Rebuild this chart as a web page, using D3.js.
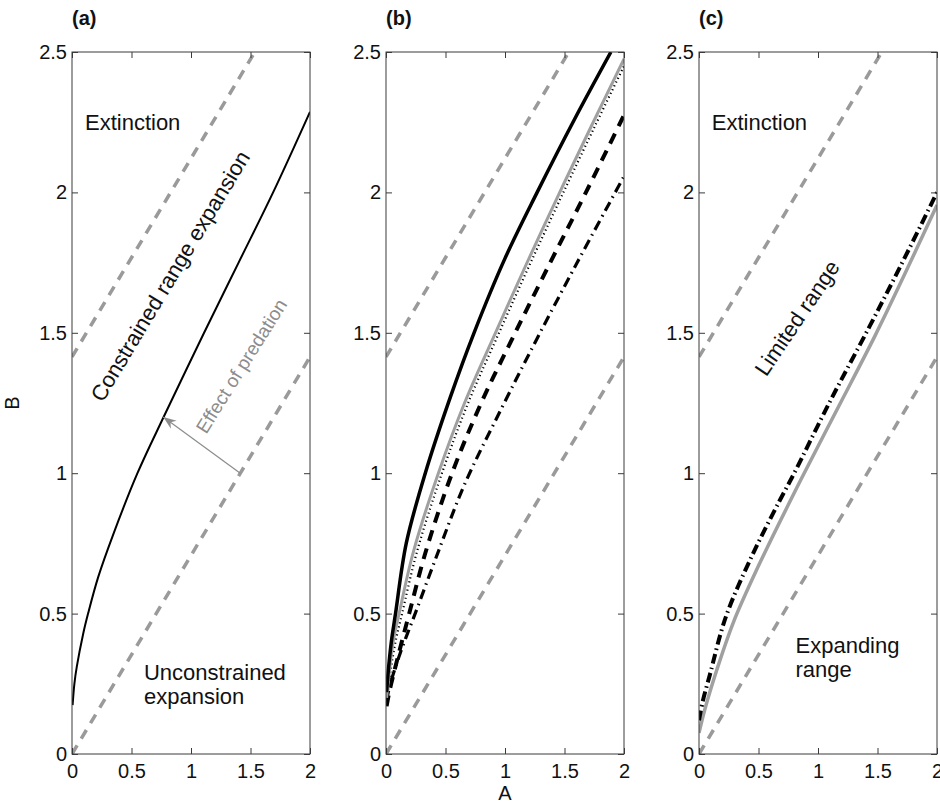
<!DOCTYPE html>
<html>
<head>
<meta charset="utf-8">
<script src="https://cdn.jsdelivr.net/npm/d3@7"></script>
<style>
  body { margin: 0; background: #fff; }
  svg { display: block; font-family: "Liberation Sans", Arial, Helvetica, sans-serif; }
</style>
</head>
<body>
<svg id="fig" width="940" height="804"></svg>
<script>
// -- Data ----------------------------------------------------------
var A_TICKS = [0, 0.5, 1, 1.5, 2];
var B_TICKS = [0, 0.5, 1, 1.5, 2, 2.5];
var PANEL_LABELS = ["(a)", "(b)", "(c)"];

// grey dashed bounds: B = A/sqrt(2) and B = A/sqrt(2) + sqrt(2)
var lowerBoundA = [0, 2];
var lowerBoundB = [0, 1.414];
var upperBoundA = [0, 1.536];
var upperBoundB = [1.414, 2.5];

// panel (a) boundary
var aCurveA = [0.005, 0.02, 0.04, 0.095, 0.135, 0.22, 0.35, 0.55, 0.77, 1.11, 1.4, 1.69, 2.0];
var aCurveB = [0.174, 0.25, 0.31, 0.43, 0.5, 0.63, 0.786, 1.0, 1.2, 1.5, 1.75, 2.0, 2.287];

// panel (a) predation arrow (tail, head)
var arrowA = [1.414, 0.767];
var arrowB = [1.0, 1.2];

// panel (b) boundaries
var bSolidA = [0.005, 0.02, 0.045, 0.08, 0.17, 0.33, 0.54, 0.74, 1.0, 1.27, 1.58, 1.89];
var bSolidB = [0.22, 0.3, 0.4, 0.5, 0.75, 1.0, 1.27, 1.5, 1.765, 2.0, 2.257, 2.5];
var bGreyA  = [0.005, 0.03, 0.06, 0.11, 0.23, 0.44, 0.66, 0.92, 1.18, 1.454, 1.73, 2.0];
var bGreyB  = [0.2, 0.3, 0.4, 0.5, 0.72, 1.0, 1.25, 1.5, 1.745, 1.995, 2.24, 2.475];
var bDotA   = [0.01, 0.04, 0.08, 0.135, 0.26, 0.47, 0.69, 0.95, 1.21, 1.485, 1.76, 2.0];
var bDotB   = [0.2, 0.3, 0.4, 0.5, 0.72, 1.0, 1.25, 1.5, 1.745, 1.995, 2.24, 2.45];
var bDashA  = [0.005, 0.03, 0.07, 0.13, 0.195, 0.33, 0.555, 0.8, 1.074, 1.38, 1.68, 2.0];
var bDashB  = [0.17, 0.225, 0.295, 0.395, 0.5, 0.715, 1.0, 1.25, 1.49, 1.75, 2.0, 2.275];
var bDashDotA = [0.005, 0.03, 0.08, 0.15, 0.245, 0.43, 0.66, 0.97, 1.27, 1.6, 1.92, 2.0];
var bDashDotB = [0.19, 0.24, 0.31, 0.395, 0.5, 0.71, 0.96, 1.23, 1.48, 1.745, 1.995, 2.057];

// panel (c) boundaries
var cDashDotA = [0, 0.03, 0.09, 0.227, 0.45, 0.675, 0.8, 1.1, 1.43, 1.72, 2.0];
var cDashDotB = [0.12, 0.185, 0.28, 0.49, 0.71, 0.9, 1.0, 1.255, 1.52, 1.76, 2.0];
var cGreyA = [0, 0.05, 0.15, 0.29, 0.5, 0.765, 0.86, 1.17, 1.48, 1.73, 2.0];
var cGreyB = [0.075, 0.16, 0.3, 0.47, 0.67, 0.9, 0.98, 1.235, 1.49, 1.71, 1.955];

// -- Layout --------------------------------------------------------
var PANEL_X = [72, 386, 699];
var PANEL_W = 238;
var TOP = 52, BOTTOM = 754;
var GREY = "#9a9a9a";
var AXIS = "#3a3a3a";

var svg = d3.select("#fig");

function zip(xs, ys) { return xs.map(function (v, i) { return [v, ys[i]]; }); }

function makePanel(i) {
  var x = d3.scaleLinear().domain([0, 2]).range([PANEL_X[i], PANEL_X[i] + PANEL_W]);
  var y = d3.scaleLinear().domain([0, 2.5]).range([BOTTOM, TOP]);
  var g = svg.append("g");

  var clipId = "clip" + i;
  svg.append("clipPath").attr("id", clipId).append("rect")
    .attr("x", x(0)).attr("y", y(2.5))
    .attr("width", x(2) - x(0)).attr("height", y(0) - y(2.5));

  var plot = g.append("g").attr("clip-path", "url(#" + clipId + ")");
  var line = d3.line().x(function (d) { return x(d[0]); }).y(function (d) { return y(d[1]); });
  var smooth = d3.line().curve(d3.curveCatmullRom.alpha(0.5))
    .x(function (d) { return x(d[0]); }).y(function (d) { return y(d[1]); });

  // bounds
  [[lowerBoundA, lowerBoundB], [upperBoundA, upperBoundB]].forEach(function (b) {
    plot.append("path").attr("d", line(zip(b[0], b[1])))
      .attr("fill", "none").attr("stroke", GREY)
      .attr("stroke-width", 3.5).attr("stroke-dasharray", "10,8");
  });

  // axes
  function fmt(d) { return String(d); }
  function style(sel) {
    sel.select(".domain").remove();
    sel.selectAll(".tick line").attr("stroke", AXIS).attr("stroke-width", 1);
    sel.selectAll(".tick text").attr("fill", "#111")
      .attr("font-size", 20).attr("font-family", "'Liberation Sans', Arial, sans-serif");
  }
  g.append("g").attr("transform", "translate(0," + y(0) + ")")
    .call(d3.axisBottom(x).tickValues(A_TICKS).tickSizeInner(-6).tickSizeOuter(0).tickPadding(10).tickFormat(fmt))
    .call(style);
  g.append("g").attr("transform", "translate(0," + y(2.5) + ")")
    .call(d3.axisTop(x).tickValues(A_TICKS).tickSizeInner(-6).tickSizeOuter(0).tickFormat(""))
    .call(style);
  g.append("g").attr("transform", "translate(" + x(0) + ",0)")
    .call(d3.axisLeft(y).tickValues(B_TICKS).tickSizeInner(-6).tickSizeOuter(0).tickPadding(5).tickFormat(fmt))
    .call(style);
  g.append("g").attr("transform", "translate(" + x(2) + ",0)")
    .call(d3.axisRight(y).tickValues(B_TICKS).tickSizeInner(-6).tickSizeOuter(0).tickFormat(""))
    .call(style);

  g.append("rect")
    .attr("x", x(0)).attr("y", y(2.5))
    .attr("width", x(2) - x(0)).attr("height", y(0) - y(2.5))
    .attr("fill", "none").attr("stroke", AXIS).attr("stroke-width", 1);

  g.append("text").attr("x", x(0)).attr("y", 25)
    .attr("font-size", 20).attr("font-weight", "bold").attr("fill", "#111")
    .text(PANEL_LABELS[i]);

  return { g: g, plot: plot, x: x, y: y, smooth: smooth, line: line };
}

function addCurve(p, xs, ys, stroke, width, dash) {
  var path = p.plot.append("path").attr("d", p.smooth(zip(xs, ys)))
    .attr("fill", "none").attr("stroke", stroke).attr("stroke-width", width)
    .attr("stroke-linejoin", "round");
  if (dash) path.attr("stroke-dasharray", dash);
  return path;
}

function addLabel(p, a, b, lines, opts) {
  opts = opts || {};
  var t = p.g.append("text")
    .attr("font-size", opts.size || 22)
    .attr("fill", opts.color || "#111");
  if (opts.rotate) {
    t.attr("transform", "translate(" + p.x(a) + "," + p.y(b) + ") rotate(" + opts.rotate + ")")
      .attr("text-anchor", "middle").attr("dy", "0.35em").text(lines[0]);
  } else {
    lines.forEach(function (s, k) {
      t.append("tspan").attr("x", p.x(a)).attr("y", p.y(b) + k * 24).text(s);
    });
  }
}

// -- Panel (a) -----------------------------------------------------
var pa = makePanel(0);
addCurve(pa, aCurveA, aCurveB, "#000", 2);
addLabel(pa, 0.109, 2.222, ["Extinction"]);
addLabel(pa, 0.605, 0.2635, ["Unconstrained", "expansion"]);
addLabel(pa, 0.824, 1.702, ["Constrained range expansion"], { rotate: -59 });
addLabel(pa, 1.423, 1.382, ["Effect of predation"], { rotate: -58, size: 19, color: "#8c8c8c" });

var tail = [pa.x(arrowA[0]), pa.y(arrowB[0])];
var head = [pa.x(arrowA[1]), pa.y(arrowB[1])];
var ang = Math.atan2(head[1] - tail[1], head[0] - tail[0]) * 180 / Math.PI;
pa.g.append("line")
  .attr("x1", tail[0]).attr("y1", tail[1]).attr("x2", head[0]).attr("y2", head[1])
  .attr("stroke", "#8c8c8c").attr("stroke-width", 1.2);
pa.g.append("path")
  .attr("d", "M0,0 L-13,-5 L-9,0 L-13,5 Z")
  .attr("transform", "translate(" + head[0] + "," + head[1] + ") rotate(" + ang + ")")
  .attr("fill", "#8c8c8c");

// B label
svg.append("text").attr("transform", "translate(19,403) rotate(-90)")
  .attr("text-anchor", "middle").attr("font-size", 20).attr("fill", "#111").text("B");

// -- Panel (b) -----------------------------------------------------
var pb = makePanel(1);
addCurve(pb, bDashDotA, bDashDotB, "#000", 3.2, "10,5,1.5,5");
addCurve(pb, bDashA, bDashB, "#000", 4, "11,8");
addCurve(pb, bDotA, bDotB, "#000", 2.2, "1.2,3");
addCurve(pb, bGreyA, bGreyB, "#a0a0a0", 3);
addCurve(pb, bSolidA, bSolidB, "#000", 3.5);

svg.append("text").attr("x", pb.x(1)).attr("y", 800)
  .attr("text-anchor", "middle").attr("font-size", 20).attr("fill", "#111").text("A");

// -- Panel (c) -----------------------------------------------------
var pc = makePanel(2);
addCurve(pc, cGreyA, cGreyB, "#a0a0a0", 3.5);
addCurve(pc, cDashDotA, cDashDotB, "#000", 4, "10,4,1.5,4");
addLabel(pc, 0.107, 2.222, ["Extinction"]);
addLabel(pc, 0.811, 0.361, ["Expanding", "range"]);
addLabel(pc, 0.824, 1.553, ["Limited range"], { rotate: -56 });
</script>
</body>
</html>
